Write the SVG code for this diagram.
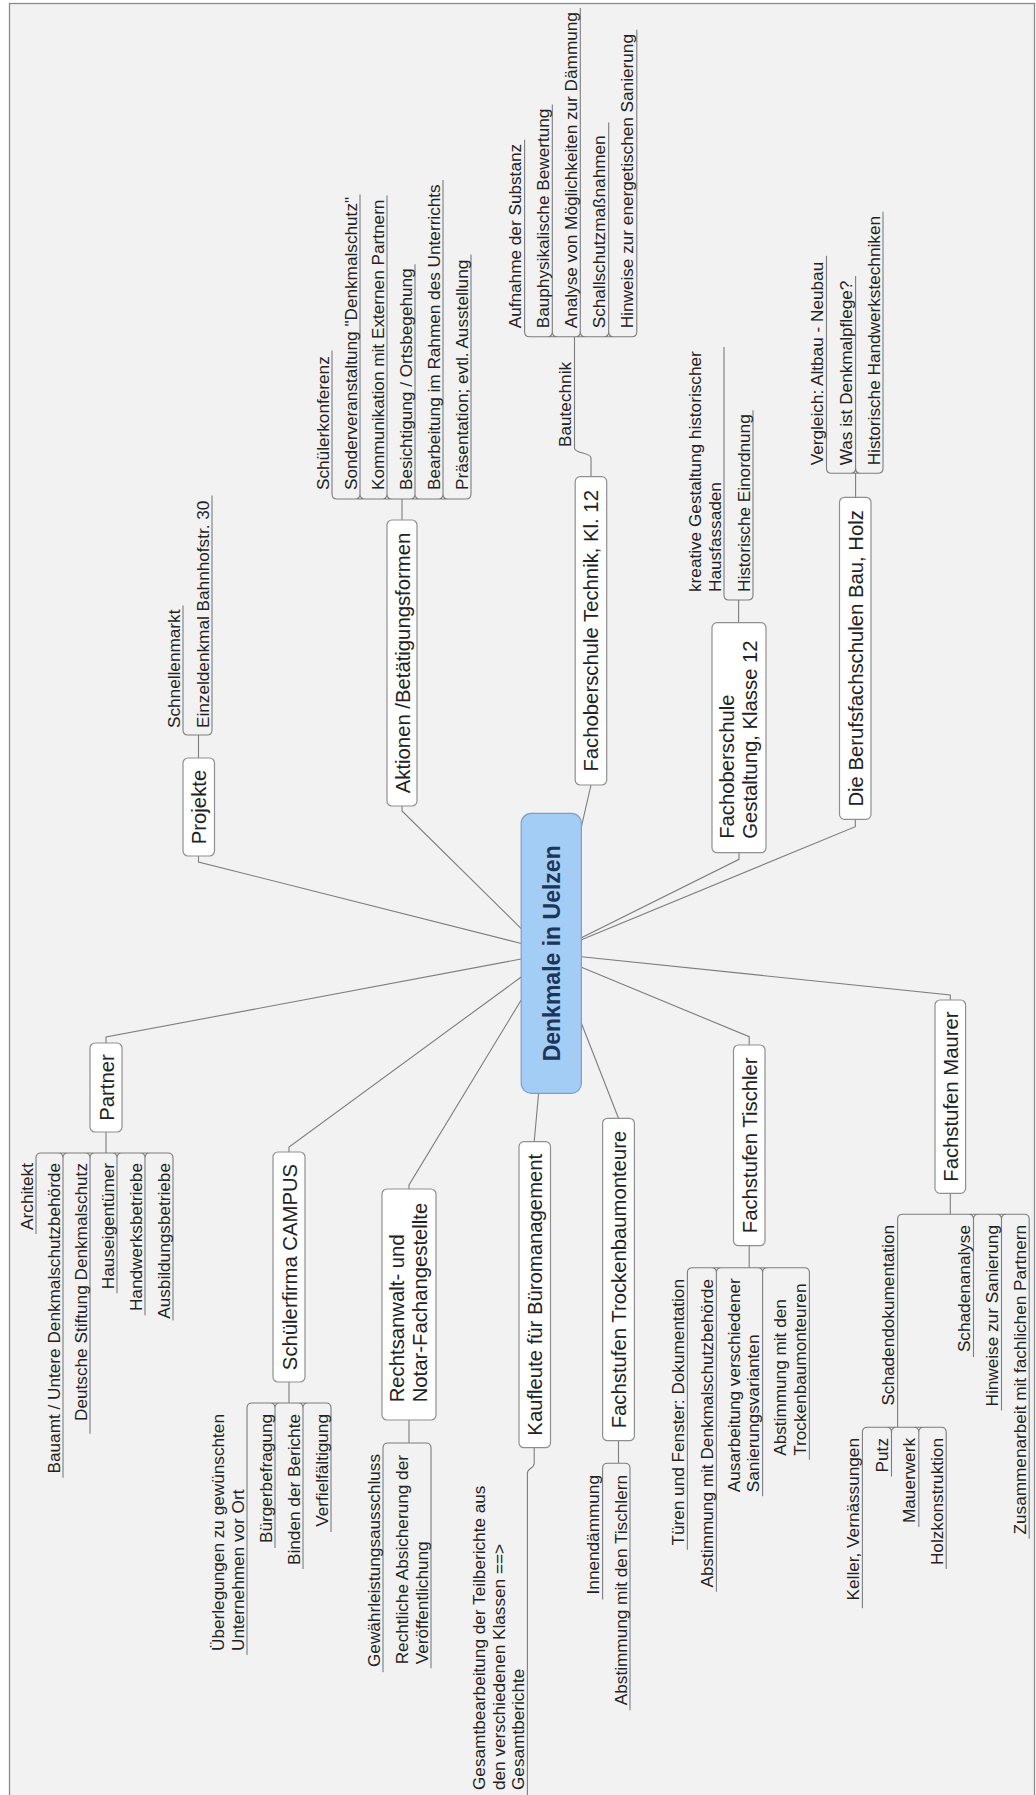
<svg xmlns="http://www.w3.org/2000/svg" width="1036" height="1795" viewBox="0 0 1036 1795">
<style>
.frame{fill:#f2f2f2;stroke:#8a8a8a;stroke-width:1.3}
.node rect{fill:#ffffff;stroke:#8f8f8f;stroke-width:1.2}
.root rect{fill:#a3cdf5;stroke:#7f9fc0;stroke-width:1.2}
.c path{fill:none;stroke:#7d7d7d;stroke-width:1.1}
text{font-family:"Liberation Sans",Arial,sans-serif;fill:#222}
.m{font-size:20.3px}
.s{font-size:17.2px}
.mc{font-size:20.3px;text-anchor:middle}
.e{text-anchor:end}
.r{font-size:23px;font-weight:bold;fill:#1b3658;text-anchor:middle}
</style>
<rect width="1036" height="1795" fill="#ffffff"/>
<rect class="frame" x="9.5" y="3.5" width="1025" height="1810"/>
<g transform="translate(0,1795) rotate(-90)">
<g id="connectors" class="c">
<path d="M939,198.5 L933,198.5 L851.5,521.2"/>
<path d="M989,402 L984,402 L866.4,521.2"/>
<path d="M752,106 L758,106 L836,521.2"/>
<path d="M643,289 L648,289 L818,521.2"/>
<path d="M606,409 L610,409 L795,521.2"/>
<path d="M653.3,534.2 L701.7,538.6"/>
<path d="M676.7,618.5 L771.7,581.4"/>
<path d="M750,749.2 L758.3,749.2 L827.7,581.4"/>
<path d="M795,950.3 L800,950.3 L838.3,581.4"/>
<path d="M1010,591 L968.3,581.4"/>
<path d="M942.3,739 L935.7,739 L857.3,581.4"/>
<path d="M975.7,855.3 L968.3,855.3 L855.3,581.4"/>
<!-- Projekte -->
<path d="M1037,198.5 L1060,198.5 M1060,188 L1060,207 M1060,188 Q1060,183 1065,183 L1189.5,183 M1060,207 Q1060,212 1065,212 L1299.5,212"/>
<!-- Aktionen -->
<path d="M1275,402 L1296,402 M1296,337 L1296,466 M1296,337 Q1296,332 1301,332 L1444.6,332 M1296,355 Q1296,360 1301,360 M1296,365 Q1296,360 1301,360 L1600.5,360 M1296,382 Q1296,387 1301,387 M1296,392 Q1296,387 1301,387 L1599.6,387 M1296,410 Q1296,415 1301,415 M1296,420 Q1296,415 1301,415 L1530.8,415 M1296,438 Q1296,443 1301,443 M1296,448 Q1296,443 1301,443 L1614.9,443 M1296,466 Q1296,471 1301,471 L1540.4,471"/>
<!-- Partner -->
<path d="M663,106 L642,106 M642,41 L642,168 M642,41 Q642,36 637,36 L561,36 M642,58 Q642,63 637,63 M642,68 Q642,63 637,63 L317.3,63 M642,85 Q642,90 637,90 M642,95 Q642,90 637,90 L361.3,90 M642,112 Q642,117 637,117 M642,122 Q642,117 637,117 L501.8,117 M642,140 Q642,145 637,145 M642,150 Q642,145 637,145 L479.8,145 M642,168 Q642,173 637,173 L474.6,173"/>
<!-- Schuelerfirma -->
<path d="M413,289 L392,289 M392,252 L392,326 M392,252 Q392,247 387,247 L140,247 M392,270 Q392,275 387,275 M392,280 Q392,275 387,275 L247,275 M392,298 Q392,303 387,303 M392,308 Q392,303 387,303 L226,303 M392,326 Q392,331 387,331 L263,331"/>
<!-- Rechtsanwalt -->
<path d="M375,409 L352,409 M352,388 L352,426 M352,388 Q352,383 347,383 L122.8,383 M352,426 Q352,431 347,431 L126.7,431"/>
<!-- Kaufleute -->
<path d="M347.3,534.2 L331.7,534.2 C326,534.2 327.5,527.4 321.7,527.4 L-10,527.4"/>
<!-- Trockenbau -->
<path d="M354.3,618.5 L331.7,618.5 M331.7,607.6 L331.7,625 M331.7,607.6 Q331.7,602.6 326.7,602.6 L195.5,602.6 M331.7,625 Q331.7,630 326.7,630 L84.7,630"/>
<!-- Tischler -->
<path d="M549.3,749.2 L527.3,749.2 M527.3,692.4 L527.3,804.4 M527.3,692.4 Q527.3,687.4 522.3,687.4 L245.3,687.4 M527.3,711.4 Q527.3,716.4 522.3,716.4 M527.3,721.4 Q527.3,716.4 522.3,716.4 L203.3,716.4 M527.3,757.6 Q527.3,762.6 522.3,762.6 M527.3,767.6 Q527.3,762.6 522.3,762.6 L298.8,762.6 M527.3,804.4 Q527.3,809.4 522.3,809.4 L335.2,809.4"/>
<!-- Maurer -->
<path d="M601.7,950.3 L580.7,950.3 M580.7,902.6 L580.7,1024.2 M580.7,902.6 Q580.7,897.6 575.7,897.6 L367.7,897.6 M580.7,968.5 Q580.7,973.5 575.7,973.5 M580.7,978.5 Q580.7,973.5 575.7,973.5 L437.9,973.5 M580.7,996.5 Q580.7,1001.5 575.7,1001.5 M580.7,1006.5 Q580.7,1001.5 575.7,1001.5 L384.4,1001.5 M580.7,1024.2 Q580.7,1029.2 575.7,1029.2 L256.3,1029.2"/>
<path d="M367.7,867.4 L367.7,941.2 M367.7,867.4 Q367.7,862.4 362.7,862.4 L186.8,862.4 M367.7,886.5 Q367.7,891.5 362.7,891.5 M367.7,896.5 Q367.7,891.5 362.7,891.5 L318.6,891.5 M367.7,913.8 Q367.7,918.8 362.7,918.8 M367.7,923.8 Q367.7,918.8 362.7,918.8 L268,918.8 M367.7,941.2 Q367.7,946.2 362.7,946.2 L225.9,946.2"/>
<!-- Fachoberschule Technik / Bautechnik -->
<path d="M1318.3,591 L1337,591 C1343,591 1341,574.5 1347,574.5 L1458.3,574.5 M1458.3,529.6 L1458.3,631.8 M1458.3,529.6 Q1458.3,524.6 1463.3,524.6 L1655.2,524.6 M1458.3,547.3 Q1458.3,552.3 1463.3,552.3 M1458.3,557.3 Q1458.3,552.3 1463.3,552.3 L1690.6,552.3 M1458.3,575.3 Q1458.3,580.3 1463.3,580.3 M1458.3,585.3 Q1458.3,580.3 1463.3,580.3 L1787.1,580.3 M1458.3,603.7 Q1458.3,608.7 1463.3,608.7 M1458.3,613.7 Q1458.3,608.7 1463.3,608.7 L1672.4,608.7 M1458.3,631.8 Q1458.3,636.8 1463.3,636.8 L1765.2,636.8"/>
<!-- Gestaltung -->
<path d="M1172.3,738.6 L1195,738.6 M1195,729 L1195,748 M1195,729 Q1195,724 1200,724 L1448,724 M1195,748 Q1195,753 1200,753 L1384.8,753"/>
<!-- Berufsfachschulen -->
<path d="M1297.7,855.6 L1321.7,855.6 M1321.7,831.5 L1321.7,878 M1321.7,831.5 Q1321.7,826.5 1326.7,826.5 L1539.2,826.5 M1321.7,850.6 Q1321.7,855.6 1326.7,855.6 M1321.7,860.6 Q1321.7,855.6 1326.7,855.6 L1519.1,855.6 M1321.7,878 Q1321.7,883 1326.7,883 L1583.2,883"/>
</g>

<g id="root" class="root"><rect x="701.7" y="521.2" width="280" height="60.2" rx="10"/><text class="r" x="841.7" y="559.5">Denkmale in Uelzen</text></g>

<g id="projekte" class="node"><rect x="939" y="183" width="98" height="31.5" rx="5"/><text class="mc" x="988" y="206">Projekte</text>
<text class="s" x="1067" y="179.5">Schnellenmarkt</text><text class="s" x="1067" y="208.5">Einzeldenkmal Bahnhofstr. 30</text></g>

<g id="aktionen" class="node"><rect x="989" y="387" width="286" height="30" rx="5"/><text class="mc" x="1132" y="409.5">Aktionen /Betätigungsformen</text>
<text class="s" x="1305" y="328.5">Schülerkonferenz</text>
<text class="s" x="1305" y="356.5">Sonderveranstaltung "Denkmalschutz"</text>
<text class="s" x="1305" y="383.5">Kommunikation mit Externen Partnern</text>
<text class="s" x="1305" y="411.5">Besichtigung / Ortsbegehung</text>
<text class="s" x="1305" y="439.5">Bearbeitung im Rahmen des Unterrichts</text>
<text class="s" x="1305" y="467.5">Präsentation; evtl. Ausstellung</text></g>

<g id="partner" class="node"><rect x="663" y="90" width="89" height="32" rx="5"/><text class="mc" x="707.5" y="113.5">Partner</text>
<text class="s e" x="632" y="32.5">Architekt</text>
<text class="s e" x="632" y="59.5">Bauamt / Untere Denkmalschutzbehörde</text>
<text class="s e" x="632" y="86.5">Deutsche Stiftung Denkmalschutz</text>
<text class="s e" x="632" y="113.5">Hauseigentümer</text>
<text class="s e" x="632" y="141.5">Handwerksbetriebe</text>
<text class="s e" x="632" y="169.5">Ausbildungsbetriebe</text></g>

<g id="schuelerfirma" class="node"><rect x="413" y="273" width="230" height="32" rx="5"/><text class="mc" x="528" y="296.5">Schülerfirma CAMPUS</text>
<text class="s" x="144" y="224">Überlegungen zu gewünschten</text><text class="s" x="144" y="243.5">Unternehmen vor Ort</text>
<text class="s e" x="381" y="271.5">Bürgerbefragung</text>
<text class="s e" x="381" y="299.5">Binden der Berichte</text>
<text class="s e" x="381" y="327.5">Verfielfältigung</text></g>

<g id="rechtsanwalt" class="node"><rect x="375" y="382" width="231" height="54" rx="5"/><text class="m" x="392.7" y="404">Rechtsanwalt- und</text><text class="m" x="392.7" y="426.5">Notar-Fachangestellte</text>
<text class="s e" x="341" y="379.5">Gewährleistungsausschluss</text>
<text class="s" x="130.7" y="408">Rechtliche Absicherung der</text><text class="s" x="130.7" y="427.5">Veröffentlichung</text></g>

<g id="kaufleute" class="node"><rect x="347.3" y="519" width="306" height="31.5" rx="5"/><text class="mc" x="500.3" y="542">Kaufleute für Büromanagement</text>
<text class="s" x="5" y="485">Gesamtbearbeitung der Teilberichte aus</text><text class="s" x="5" y="504.5">den verschiedenen Klassen ==&gt;</text><text class="s" x="5" y="524">Gesamtberichte</text></g>

<g id="trockenbau" class="node"><rect x="354.3" y="602.6" width="322.4" height="31.8" rx="5"/><text class="mc" x="515.5" y="626">Fachstufen Trockenbaumonteure</text>
<text class="s e" x="320" y="599.1">Innendämmung</text>
<text class="s e" x="320" y="626.5">Abstimmung mit den Tischlern</text></g>

<g id="tischler" class="node"><rect x="549.3" y="733.5" width="200.7" height="31.5" rx="5"/><text class="mc" x="649.7" y="756.5">Fachstufen Tischler</text>
<text class="s e" x="516" y="683.9">Türen und Fenster: Dokumentation</text>
<text class="s e" x="516" y="712.9">Abstimmung mit Denkmalschutzbehörde</text>
<text class="s" x="302.8" y="739.6">Ausarbeitung verschiedener</text><text class="s" x="302.8" y="759.1">Sanierungsvarianten</text>
<text class="s" x="339.2" y="786.4">Abstimmung mit den</text><text class="s" x="339.2" y="805.9">Trockenbaumonteuren</text></g>

<g id="maurer" class="node"><rect x="601.7" y="935" width="193.3" height="30.6" rx="5"/><text class="mc" x="698.4" y="957.6">Fachstufen Maurer</text>
<text class="s e" x="570" y="894.1">Schadendokumentation</text>
<text class="s e" x="357" y="858.9">Keller, Vernässungen</text>
<text class="s e" x="357" y="888">Putz</text>
<text class="s e" x="357" y="915.3">Mauerwerk</text>
<text class="s e" x="357" y="942.7">Holzkonstruktion</text>
<text class="s e" x="570" y="970">Schadenanalyse</text>
<text class="s e" x="570" y="998">Hinweise zur Sanierung</text>
<text class="s e" x="570" y="1025.7">Zusammenarbeit mit fachlichen Partnern</text></g>

<g id="fos-technik" class="node"><rect x="1010" y="575.2" width="308.3" height="31.5" rx="5"/><text class="mc" x="1164.2" y="598.3">Fachoberschule Technik, Kl. 12</text>
<text class="s" x="1348" y="571">Bautechnik</text>
<text class="s" x="1466.7" y="521.1">Aufnahme der Substanz</text>
<text class="s" x="1466.7" y="548.8">Bauphysikalische Bewertung</text>
<text class="s" x="1466.7" y="576.8">Analyse von Möglichkeiten zur Dämmung</text>
<text class="s" x="1466.7" y="605.2">Schallschutzmaßnahmen</text>
<text class="s" x="1466.7" y="633.3">Hinweise zur energetischen Sanierung</text></g>

<g id="fos-gestaltung" class="node"><rect x="942.3" y="712" width="230" height="54" rx="5"/><text class="m" x="956.2" y="734">Fachoberschule</text><text class="m" x="956.2" y="756.5">Gestaltung, Klasse 12</text>
<text class="s" x="1203" y="701">kreative Gestaltung historischer</text><text class="s" x="1203" y="720.5">Hausfassaden</text>
<text class="s" x="1203" y="749.5">Historische Einordnung</text></g>

<g id="berufsfachschulen" class="node"><rect x="975.7" y="839.5" width="322" height="31.5" rx="5"/><text class="mc" x="1136.7" y="862.6">Die Berufsfachschulen Bau, Holz</text>
<text class="s" x="1329.7" y="823">Vergleich: Altbau - Neubau</text>
<text class="s" x="1329.7" y="852.1">Was ist Denkmalpflege?</text>
<text class="s" x="1329.7" y="879.5">Historische Handwerkstechniken</text></g>
</g>
</svg>
